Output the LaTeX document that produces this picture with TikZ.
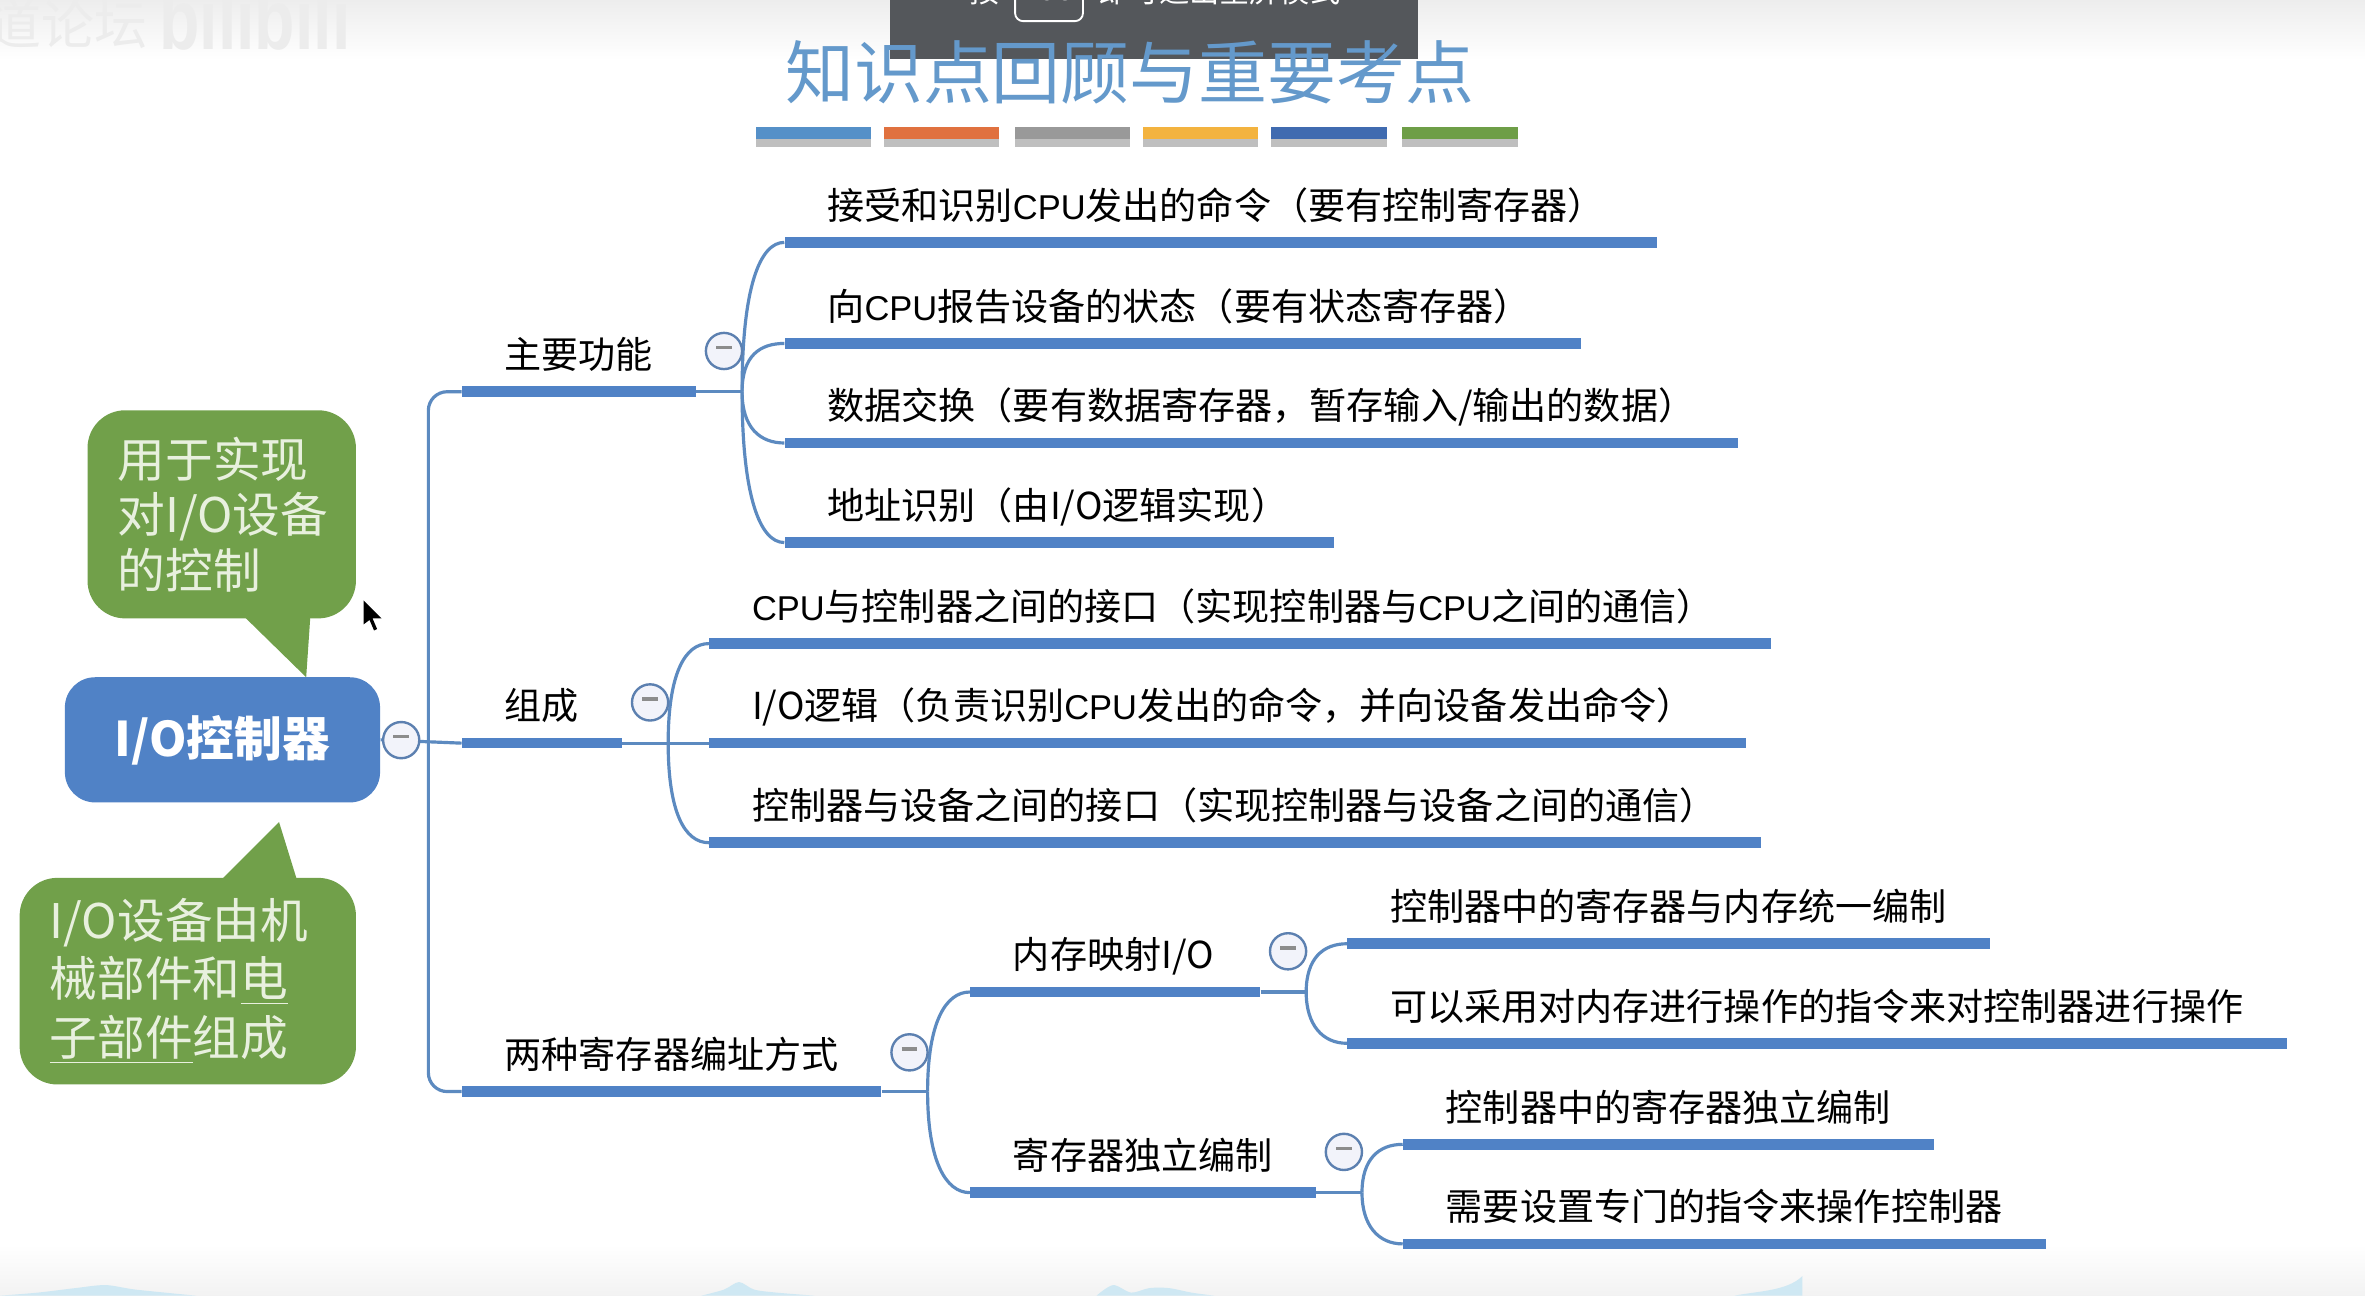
\documentclass[tikz,border=0pt]{standalone}
\usepackage{fontspec}
\setmainfont{Noto Sans CJK SC}
\newfontfamily\latfont{Liberation Sans}
\usepackage{xcolor}
\usetikzlibrary{positioning, shadows}
\definecolor{myblue}{RGB}{80,130,198}
\definecolor{mylink}{RGB}{92,138,192}
\definecolor{mytitle}{RGB}{100,153,203}
\definecolor{mygreen}{RGB}{113,160,74}
\definecolor{mytip}{RGB}{232,240,222}
\definecolor{myfold}{RGB}{242,243,250}
\definecolor{myfoldline}{RGB}{92,128,176}
\definecolor{mybanner}{RGB}{84,87,91}
\definecolor{mycloud}{RGB}{207,232,243}
\definecolor{mymark}{RGB}{236,236,236}
\definecolor{stripeA}{RGB}{85,144,200}
\definecolor{stripeB}{RGB}{224,113,63}
\definecolor{stripeC}{RGB}{153,153,153}
\definecolor{stripeD}{RGB}{243,179,63}
\definecolor{stripeE}{RGB}{64,107,176}
\definecolor{stripeF}{RGB}{110,158,71}
\newcommand{\foldbar}{\textcolor{black!45}{\rule[2.6pt]{6pt}{1.3pt}}}
\newcommand{\cpu}{{\latfont\fontsize{13}{17}\selectfont CPU}}
\tikzset{
  rootnode/.style={rectangle, fill=myblue, rounded corners=0.4cm,
    minimum width=4.18cm, minimum height=1.66cm, text=white,
    font=\fontsize{18}{21}\selectfont\bfseries},
  tipbox/.style={rectangle, fill=mygreen, rounded corners=0.5cm, inner xsep=0.4cm,
    align=left, text=mytip, font=\fontsize{18}{21}\selectfont},
  topicbar/.style={rectangle, fill=myblue, inner sep=0pt, minimum height=0.14cm},
  leaftext/.style={inner sep=0pt, anchor=south west, text height=11pt, text depth=3pt,
    font=\fontsize{14}{17}\selectfont, text=black},
  foldmark/.style={circle, draw=myfoldline, fill=myfold, inner sep=0pt,
    minimum size=0.48cm, line width=0.9pt},
  branch/.style={line width=1.2pt, color=mylink},
  stripe/.style={rectangle, inner sep=0pt, minimum width=1.53cm, minimum height=0.16cm,
    drop shadow={shadow xshift=0pt, shadow yshift=-3pt, opacity=0.25, fill=black}}
}
\begin{document}
\begin{tikzpicture}[x=0.02cm, y=-0.02cm]
  \useasboundingbox (0,0) rectangle (1568,859);
  \clip (0,0) rectangle (1568,859);
  % page background
  \fill[white] (0,0) rectangle (1568,859);
  \shade[top color=black!7, bottom color=white] (0,0) rectangle (1568,40);
  \shade[top color=white, bottom color=black!5] (0,825) rectangle (1568,859);
  % clouds along the bottom edge
  \fill[mycloud] plot[smooth] coordinates {(0,859) (25,857) (50,854) (70,852) (90,855) (130,859)};
  \fill[mycloud] plot[smooth] coordinates {(465,859) (480,855) (490,850) (500,855) (515,857) (540,859)};
  \fill[mycloud] plot[smooth] coordinates {(727,859) (738,852) (750,857) (762,854) (775,854) (790,857) (805,859)};
  \fill[mycloud] (1150,859) .. controls (1165,856) and (1185,856) .. (1195,846) -- (1195,859) -- cycle;
  % watermark
  \node[font=\fontsize{20}{24}\selectfont, text=mymark] (markcn) at (45,16) {道论坛};
  \node[font=\fontsize{32}{36}\selectfont\latfont\bfseries, text=mymark, xscale=0.78] (markbb) at (169,13) {bilibili};
  % banner at the top edge
  \fill[mybanner] (590,0) rectangle (940,39);
  \draw[white, line width=0.7pt, rounded corners=3pt] (673,-12) rectangle (718,14);
  \node[font=\fontsize{11.4}{14}\selectfont, text=white] (esckey) at (653,-6) {按};
  \node[font=\fontsize{10}{12}\selectfont, text=white] (esctxt) at (695,-6) {ESC};
  \node[font=\fontsize{11.4}{14}\selectfont, text=white, anchor=west, inner sep=0pt] (escrest) at (728,-6) {即可退出全屏模式};
  % title and its stripes
  \node[font=\fontsize{26}{30}\selectfont, text=mytitle] (title) at (749,48) {知识点回顾与重要考点};
  \foreach \nm/\xx/\cc in {sa/539.5/stripeA, sb/624/stripeB, sc/711/stripeC, sd/796/stripeD, se/881/stripeE, sf/968/stripeF}
    \node[stripe, fill=\cc] (\nm) at (\xx,88) {};
  % callouts
  \coordinate (usetip) at (203,449);
  \coordinate (parttip) at (185,545);
  \fill[mygreen] (158,405) -- (usetip) -- (206,405) -- cycle;
  \fill[mygreen] (143,587) -- (parttip) -- (198,587) -- cycle;
  \node[tipbox, text width=3.56cm-0.8cm, minimum height=2.76cm] (usebox) at (147,341)
    {用于实现\\对I/O设备\\的控制};
  \node[tipbox, text width=4.46cm-0.8cm, minimum height=2.74cm, font=\fontsize{18}{22}\selectfont] (partbox) at (124.5,650.5)
    {I/O设备由机\\械部件和\underline{电}\\\underline{子部件}组成};
  % root
  \node[rootnode] (root) at (147.5,490.5) {\raisebox{-1.2pt}{I/O控制器}};
  % bars and their texts
  \foreach \nm/\xa/\xb/\yy/\txt in {
    fnbar/306/461/259/{主要功能},
    cnbar/306/412/492/{组成},
    adbar/306/584/723/{两种寄存器编址方式},
    fna/520/1098/160/{接受和识别\cpu 发出的命令（要有控制寄存器）},
    fnb/520/1048/227/{向\cpu 报告设备的状态（要有状态寄存器）},
    fnc/520/1152/293/{数据交换（要有数据寄存器，暂存输入/输出的数据）},
    fnd/520/884/359/{地址识别（由I/O逻辑实现）},
    cna/470/1174/426/{\cpu 与控制器之间的接口（实现控制器与\cpu 之间的通信）},
    cnb/470/1157/492/{I/O逻辑（负责识别\cpu 发出的命令，并向设备发出命令）},
    cnc/470/1167/558/{控制器与设备之间的接口（实现控制器与设备之间的通信）},
    membar/643/835/657/{内存映射I/O},
    regbar/643/872/790/{寄存器独立编制},
    mema/893/1319/625/{控制器中的寄存器与内存统一编制},
    memb/893/1516/691/{可以采用对内存进行操作的指令来对控制器进行操作},
    rega/930/1282/758/{控制器中的寄存器独立编制},
    regb/930/1356/824/{需要设置专门的指令来操作控制器}}
  {
    \node[topicbar, anchor=west, minimum width={(\xb-\xa)*0.02cm}] (\nm) at (\xa,\yy+0.7) {};
    \node[leaftext, above right=3.4pt and 0.565cm of \nm.north west] (\nm text) {\txt};
  }
  % hubs
  \coordinate (roothub) at (284,492.7);
  \coordinate (fnhub) at (492,259.7);
  \coordinate (cnhub) at (443,492.7);
  \coordinate (adhub) at (615,723.7);
  \coordinate (memhub) at (866,657.7);
  \coordinate (reghub) at (903,790.7);
  % connectors
  \draw[branch] (root.east) -- (cnbar.west);
  \draw[branch, rounded corners=0.25cm] (fnbar.west) -| (roothub) |- (adbar.west);
  \draw[branch] (fnbar.east) -- (fnhub);
  \draw[branch] (cnbar.east) -- (cnb.west);
  \draw[branch] (adbar.east) -- (adhub);
  \draw[branch] (membar.east) -- (memhub);
  \draw[branch] (regbar.east) -- (reghub);
  \foreach \hub/\child/\dy in {fnhub/fna/-70, fnhub/fnb/-24, fnhub/fnc/24, fnhub/fnd/70,
    cnhub/cna/-46, cnhub/cnc/46, adhub/membar/-46, adhub/regbar/46,
    memhub/mema/-22, memhub/memb/22, reghub/rega/-22, reghub/regb/22}
    \draw[branch] (\hub) .. controls +(0,\dy) and +(-16,0) .. (\child.west);
  % fold marks
  \foreach \nm/\xx/\yy in {foldroot/266/490.7, foldfn/480/232.7, foldcn/431/465.7, foldad/603/697.7, foldmem/854/630.7, foldreg/891/763.7}
    \node[foldmark] (\nm) at (\xx,\yy) {\foldbar};
  % mouse pointer
  \fill[black] (241,398) -- (241,414) -- (245,411) -- (248,418) -- (250,417) -- (247,410) -- (253,410) -- cycle;
\end{tikzpicture}
\end{document}
